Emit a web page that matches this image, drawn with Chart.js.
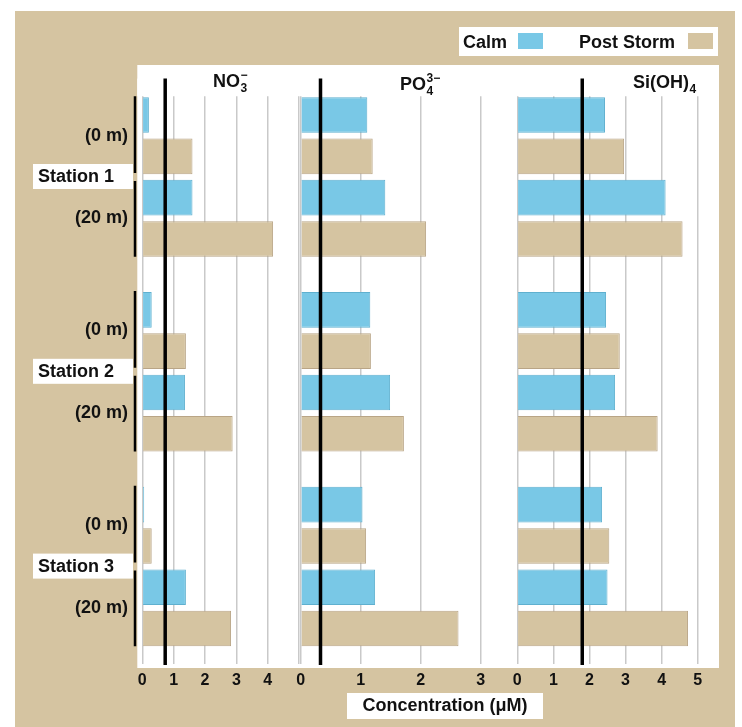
<!DOCTYPE html>
<html>
<head>
<meta charset="utf-8">
<script src="https://cdn.jsdelivr.net/npm/chart.js@4.4.1/dist/chart.umd.min.js"></script>
<style>
  html, body { margin: 0; padding: 0; background: #fff; }
  #wrap { width: 742px; height: 727px; position: relative; }
</style>
</head>
<body>
<div id="wrap"><canvas id="chart"></canvas></div>
<script>
// data (µM)
const stations = ['Station 1', 'Station 2', 'Station 3'];
const depths = ['(0 m)', '(20 m)'];
const seriesNames = ['Calm', 'Post Storm'];

const no3Calm0 = [0.21, 0.30, 0.06];
const no3Storm0 = [1.60, 1.39, 0.30];
const no3Calm20 = [1.60, 1.36, 1.39];
const no3Storm20 = [4.17, 2.88, 2.83];

const po4Calm0 = [1.11, 1.16, 1.03];
const po4Storm0 = [1.20, 1.17, 1.09];
const po4Calm20 = [1.41, 1.49, 1.24];
const po4Storm20 = [2.09, 1.72, 2.63];

const siCalm0 = [2.43, 2.46, 2.35];
const siStorm0 = [2.96, 2.84, 2.55];
const siCalm20 = [4.11, 2.71, 2.50];
const siStorm20 = [4.58, 3.89, 4.73];

// vertical reference line of each panel
const thresholds = [0.73, 0.33, 1.80];
// axis ranges
const axisMax = [5.05, 3.61, 5.59];
const lastTick = [4, 3, 5];

const FONT = '"Liberation Sans", Arial, Helvetica, sans-serif';
const TAN = '#d5c4a1';
const TAN_EDGE = '#b9a586';
const BLUE = '#79c8e6';
const BLUE_EDGE = '#5fb0cf';

const panels = [
  { id: 'x1', calm0: no3Calm0, storm0: no3Storm0, calm20: no3Calm20, storm20: no3Storm20 },
  { id: 'x2', calm0: po4Calm0, storm0: po4Storm0, calm20: po4Calm20, storm20: po4Storm20 },
  { id: 'x3', calm0: siCalm0, storm0: siStorm0, calm20: siCalm20, storm20: siStorm20 }
];

const datasets = [];
panels.forEach(p => {
  const mk = (data, calm, stack) => ({
    label: calm ? seriesNames[0] : seriesNames[1],
    data: data,
    xAxisID: p.id,
    yAxisID: 'y',
    stack: stack,
    backgroundColor: calm ? BLUE : TAN,
    borderColor: calm ? BLUE_EDGE : TAN_EDGE,
    borderWidth: 1,
    categoryPercentage: 0.848,
    barPercentage: 0.862
  });
  datasets.push(mk(p.calm0, true, 'c0'));
  datasets.push(mk(p.storm0, false, 's0'));
  datasets.push(mk(p.calm20, true, 'c20'));
  datasets.push(mk(p.storm20, false, 's20'));
});

function xAxis(i, weight) {
  return {
    type: 'linear',
    position: 'bottom',
    stack: 'conc',
    stackWeight: weight,
    stacked: false,
    min: 0,
    max: axisMax[i],
    border: { display: false },
    grid: { color: '#c9c9c9', lineWidth: 1.5, drawTicks: false },
    ticks: {
      stepSize: 1,
      includeBounds: false,
      padding: 7,
      color: '#111',
      font: { family: FONT, size: 16, weight: 'bold' },
      callback: v => (v <= lastTick[i] ? v : '')
    },
    afterFit: s => { s.height = 34; }
  };
}

function chem(ctx, x, y, base, sub, sup) {
  ctx.font = 'bold 18px ' + FONT;
  ctx.textAlign = 'left';
  ctx.textBaseline = 'alphabetic';
  ctx.fillText(base, x, y);
  const w = ctx.measureText(base).width;
  ctx.font = 'bold 12px ' + FONT;
  if (sub) ctx.fillText(sub, x + w + 0.5, y + 5);
  if (sup) ctx.fillText(sup, x + w + 0.5, y - 8);
}

const decor = {
  id: 'decor',
  beforeDraw(chart) {
    const { ctx, chartArea: a } = chart;
    ctx.save();
    ctx.fillStyle = '#fff';
    ctx.fillRect(0, 0, chart.width, chart.height);
    ctx.fillStyle = TAN;
    ctx.fillRect(15, 11, 720, 716);
    ctx.fillStyle = '#fff';
    ctx.fillRect(a.left - 5, 65, a.right - a.left + 5, 603);
    ctx.restore();
  },
  beforeDatasetsDraw(chart) {
    // grid lines start at the top of the first bar
    const { ctx, chartArea: a } = chart;
    const bar = chart.getDatasetMeta(0).data[0];
    const top = bar.y - bar.height / 2;
    ctx.save();
    ctx.fillStyle = '#fff';
    ctx.fillRect(a.left - 5, a.top - 1, a.right - a.left + 5, top - a.top);
    ctx.restore();
  },
  afterDatasetsDraw(chart) {
    const { ctx, chartArea: a } = chart;
    ctx.save();
    // reference lines
    ctx.strokeStyle = '#000';
    ctx.lineWidth = 3.5;
    panels.forEach((p, i) => {
      const x = chart.scales[p.id].getPixelForValue(thresholds[i]);
      ctx.beginPath();
      ctx.moveTo(x, a.top - 1);
      ctx.lineTo(x, a.bottom + 1);
      ctx.stroke();
    });

    // panel titles
    ctx.fillStyle = '#111';
    chem(ctx, 213, 87, 'NO', '3', '\u2212');
    chem(ctx, 400, 90, 'PO', '4', '3\u2212');
    chem(ctx, 633, 88, 'Si(OH)', '4', null);

    // station labels, depth labels and brackets
    const m0 = chart.getDatasetMeta(0).data;
    const m1 = chart.getDatasetMeta(1).data;
    const m2 = chart.getDatasetMeta(2).data;
    const m3 = chart.getDatasetMeta(3).data;
    const yScale = chart.scales.y;
    stations.forEach((st, i) => {
      const cy = yScale.getPixelForValue(i);
      const top = m0[i].y - m0[i].height / 2;
      const bot = m3[i].y + m3[i].height / 2;
      ctx.strokeStyle = '#000';
      ctx.lineWidth = 2.5;
      ctx.beginPath();
      ctx.moveTo(135, top - 1);
      ctx.lineTo(135, cy - 4);
      ctx.moveTo(135, cy + 4);
      ctx.lineTo(135, bot);
      ctx.stroke();

      ctx.fillStyle = '#fff';
      ctx.fillRect(33, cy - 13, 100, 25);
      ctx.fillStyle = '#111';
      ctx.font = 'bold 18px ' + FONT;
      ctx.textAlign = 'left';
      ctx.textBaseline = 'middle';
      ctx.fillText(st, 38, cy);

      ctx.textAlign = 'right';
      ctx.fillText(depths[0], 128, (m0[i].y + m1[i].y) / 2);
      ctx.fillText(depths[1], 128, (m2[i].y + m3[i].y) / 2);
    });

    // legend
    ctx.fillStyle = '#fff';
    ctx.fillRect(459, 27, 259, 29);
    ctx.fillStyle = '#111';
    ctx.textAlign = 'left';
    ctx.textBaseline = 'alphabetic';
    ctx.font = 'bold 18px ' + FONT;
    ctx.fillText(seriesNames[0], 463, 48);
    ctx.fillText(seriesNames[1], 579, 48);
    ctx.fillStyle = BLUE;
    ctx.fillRect(518, 33, 25, 16);
    ctx.fillStyle = TAN;
    ctx.fillRect(688, 33, 25, 16);

    // axis title
    ctx.fillStyle = '#fff';
    ctx.fillRect(347, 693, 196, 26);
    ctx.fillStyle = '#111';
    ctx.textAlign = 'center';
    ctx.textBaseline = 'middle';
    ctx.fillText('Concentration (\u03bcM)', 445, 706);
    ctx.restore();
  }
};

new Chart(document.getElementById('chart'), {
  type: 'bar',
  data: { labels: stations, datasets: datasets },
  options: {
    indexAxis: 'y',
    responsive: true,
    maintainAspectRatio: false,
    animation: false,
    layout: { padding: { left: 142.3, right: 23, top: 79.6, bottom: 29 } },
    plugins: { legend: { display: false }, tooltip: { enabled: false } },
    scales: {
      y: { type: 'category', display: false, grid: { display: false } },
      x1: xAxis(0, 158.4),
      x2: xAxis(1, 216.6),
      x3: xAxis(2, 201.7)
    }
  },
  plugins: [decor]
});
</script>
</body>
</html>
